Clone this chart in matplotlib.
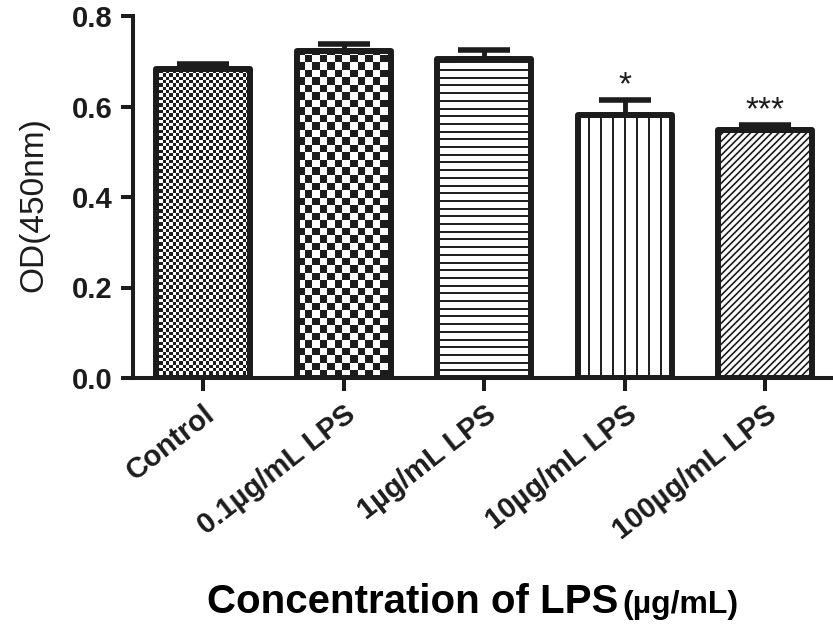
import numpy as np
import matplotlib
matplotlib.use("Agg")
import matplotlib.pyplot as plt
from matplotlib.collections import LineCollection
from matplotlib.colors import ListedColormap

groups = ["Control", "0.1µg/mL LPS", "1µg/mL LPS", "10µg/mL LPS", "100µg/mL LPS"]
od_mean = [0.683, 0.723, 0.705, 0.582, 0.547]
od_sem = [0.011, 0.016, 0.020, 0.033, 0.012]
stars = ["", "", "", "*", "***"]
fills = ["fine_checker", "checker", "hlines", "vlines", "diag"]

plt.rcParams["font.family"] = ["Liberation Sans", "DejaVu Sans"]
ink = "#1c1c1c"

W, H, DPI = 833, 627, 100
fig = plt.figure(figsize=(W / DPI, H / DPI), dpi=DPI)
ax = fig.add_axes([133 / W, 249 / H, 700 / W, 362 / H])
xmin, xmax = -0.5, 4.484
ymax = 0.8

# screen pixels per data unit (for the fill textures)
px_x = 700 / (xmax - xmin)
px_y = 362 / ymax

x = np.arange(len(groups))
width = 0.67
bars = ax.bar(x, od_mean, width=width, color="white", edgecolor="none", zorder=2)


def checker(rect, cell):
    x0, w, h = rect.get_x(), rect.get_width(), rect.get_height()
    dx, dy = cell / px_x, cell / px_y
    nc, nr = int(np.ceil(w / dx)), int(np.ceil(h / dy))
    board = (np.add.outer(np.arange(nr), np.arange(nc)) % 2).astype(float)
    im = ax.imshow(board, cmap=ListedColormap(["white", ink]), interpolation="nearest",
                   extent=[x0, x0 + nc * dx, 0, nr * dy], origin="lower",
                   aspect="auto", zorder=3)
    im.set_clip_path(rect)


def hatch_lines(rect, kind, step, lw=1.4):
    x0, w, h = rect.get_x(), rect.get_width(), rect.get_height()
    segs = []
    if kind == "h":
        for yy in np.arange(step / px_y, h, step / px_y):
            segs.append([(x0, yy), (x0 + w, yy)])
    elif kind == "v":
        for xx in np.arange(x0 + step / px_x, x0 + w, step / px_x):
            segs.append([(xx, 0), (xx, h)])
    else:
        # 45 degree lines on screen
        run = h * px_y / px_x
        for c in np.arange(x0 - run, x0 + w, step / px_x):
            segs.append([(c, 0), (c + run, h)])
    lc = LineCollection(segs, colors=ink, linewidths=lw, zorder=3)
    ax.add_collection(lc)
    lc.set_clip_path(rect)


for rect, f in zip(bars, fills):
    if f == "fine_checker":
        checker(rect, 3.3)
    elif f == "checker":
        checker(rect, 7.5)
    elif f == "hlines":
        hatch_lines(rect, "h", 7.7)
    elif f == "vlines":
        hatch_lines(rect, "v", 11.9)
    else:
        hatch_lines(rect, "d", 7.0, lw=1.2)

ax.bar(x, od_mean, width=width, fill=False, edgecolor=ink, linewidth=4.3,
       joinstyle="round", zorder=4)
ax.errorbar(x, od_mean, yerr=[np.zeros(len(x)), od_sem], fmt="none", ecolor=ink,
            elinewidth=3.5, capsize=19, capthick=4, zorder=4)

for xi, m, e, s in zip(x, od_mean, od_sem, stars):
    if s:
        ax.annotate(s, (xi, m + e), xytext=(0, 4), textcoords="offset points",
                    ha="center", va="baseline", fontsize=24, color=ink)

ax.set_xlim(xmin, xmax)
ax.set_ylim(0, ymax)

for side in ["top", "right"]:
    ax.spines[side].set_visible(False)
for side in ["left", "bottom"]:
    ax.spines[side].set_linewidth(2.9)
    ax.spines[side].set_color(ink)

yt = [0.0, 0.2, 0.4, 0.6, 0.8]
ax.set_yticks(yt, labels=[f"{v:.1f}" for v in yt])
ax.set_xticks(x, labels=groups)
ax.tick_params(axis="both", width=2.9, length=9, color=ink, labelcolor=ink)
ax.tick_params(axis="y", labelsize=21, pad=6)
ax.tick_params(axis="x", labelsize=21, pad=7)
for lab in ax.get_yticklabels():
    lab.set_fontweight("bold")
for lab in ax.get_xticklabels():
    lab.set_fontweight("bold")
    lab.set_rotation(38)
    lab.set_ha("right")
    lab.set_va("top")
    lab.set_rotation_mode("anchor")

fig.text(34 / W, 1 - 205 / H, "OD(450nm)", rotation=90, ha="center", va="center",
         fontsize=24, color=ink)
fig.text(618 / W, 1 - 613 / H, "Concentration of LPS", ha="right", va="baseline",
         fontsize=29, weight="bold", color="black")
fig.text(622 / W, 1 - 613 / H, "(µg/mL)", ha="left", va="baseline",
         fontsize=23, weight="bold", color="black")

fig.savefig("out.png", dpi=DPI)
